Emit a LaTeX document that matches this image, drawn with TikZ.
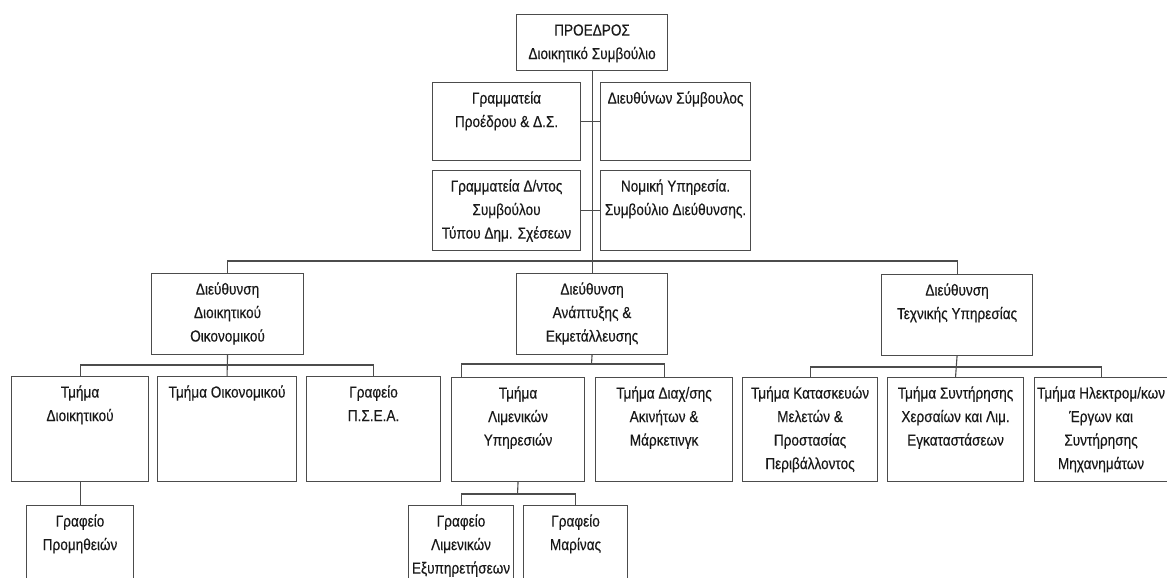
\documentclass[tikz,border=0pt]{standalone}
\usepackage{fontspec}
\setmainfont[FakeStretch=0.85,FakeBold=0.3]{Liberation Sans}
\newcommand{\tb}[3]{\parbox[t][#2pt][t]{#1pt}{\centering\baselineskip=23.5pt\rule{0pt}{21pt}#3}}
\tikzset{
  unit/.style={draw=black!70, line width=1.1pt, inner sep=0pt, anchor=north west,
    text=black!90, font=\fontsize{16}{23.5}\selectfont},
  link/.style={draw=black!70, line width=1.1pt}
}
\begin{document}
\begin{tikzpicture}[x=1pt,y=-1pt]
  \clip (0,0) rectangle (1167,578);
  \fill[white] (0,0) rectangle (1167,578);
  % top level
  \node[unit] (prs) at (516,14) {\tb{151}{56}{ΠΡΟΕΔΡΟΣ\\Διοικητικό Συμβούλιο}};
  \node[unit] (gp) at (432,82) {\tb{148}{78}{Γραμματεία\\Προέδρου \& Δ.Σ.}};
  \node[unit] (ceo) at (600,82) {\tb{150}{78}{Διευθύνων Σύμβουλος}};
  \node[unit] (gd) at (432,170) {\tb{148}{80}{Γραμματεία Δ/ντος\\Συμβούλου\\Τύπου Δημ. Σχέσεων}};
  \node[unit] (nom) at (600,170) {\tb{150}{80}{Νομική Υπηρεσία.\\Συμβούλιο Διεύθυνσης.}};
  % directorates
  \node[unit] (dio) at (151,273) {\tb{152}{81}{Διεύθυνση\\Διοικητικού\\Οικονομικού}};
  \node[unit] (anap) at (516,273) {\tb{151}{81}{Διεύθυνση\\Ανάπτυξης \&\\Εκμετάλλευσης}};
  \node[unit] (tex) at (881,274) {\tb{151}{81}{Διεύθυνση\\Τεχνικής Υπηρεσίας}};
  % departments
  \node[unit] (tdi) at (11,376) {\tb{137}{105}{Τμήμα\\Διοικητικού}};
  \node[unit] (toik) at (157,376) {\tb{139}{105}{Τμήμα Οικονομικού}};
  \node[unit] (psea) at (306,376) {\tb{134}{105}{Γραφείο\\Π.Σ.Ε.Α.}};
  \node[unit] (lim) at (451,377) {\tb{133}{104}{Τμήμα\\Λιμενικών\\Υπηρεσιών}};
  \node[unit] (diax) at (595,377) {\tb{137}{104}{Τμήμα Διαχ/σης\\Ακινήτων \&\\Μάρκετινγκ}};
  \node[unit] (kat) at (742,377) {\tb{135}{104}{Τμήμα Κατασκευών\\Μελετών \&\\Προστασίας\\Περιβάλλοντος}};
  \node[unit] (syn) at (887,377) {\tb{136}{104}{Τμήμα Συντήρησης\\Χερσαίων και Λιμ.\\Εγκαταστάσεων}};
  \node[unit] (ilek) at (1034,377) {\tb{133}{104}{Τμήμα Ηλεκτρομ/κων\\Έργων και\\Συντήρησης\\Μηχανημάτων}};
  % offices
  \node[unit] (prom) at (26,505) {\tb{107}{90}{Γραφείο\\Προμηθειών}};
  \node[unit] (glim) at (408,505) {\tb{105}{90}{Γραφείο\\Λιμενικών\\Εξυπηρετήσεων}};
  \node[unit] (mar) at (523,505) {\tb{104}{90}{Γραφείο\\Μαρίνας}};
  % junctions
  \coordinate (bus) at (591.5,261);
  \coordinate (busdio) at (227,365);
  \coordinate (busanap) at (591.5,364);
  \coordinate (buslim) at (517.5,494);
  \coordinate (bustex) at (956.5,367);
  % connectors
  \draw[link] (prs.south) -- (anap.north);
  \draw[link] (gp.east) -- (ceo.west);
  \draw[link] (gd.east) -- (nom.west);
  \draw[link] (dio.north) |- (bus) -| (tex.north);
  \draw[link] (dio.south) -- (toik.north);
  \draw[link] (tdi.north) |- (busdio) -| (psea.north);
  \draw[link] (tdi.south) -- (prom.north);
  \draw[link] (anap.south) -- (busanap);
  \draw[link] (lim.north -| glim.north) |- (busanap) -| (diax.north);
  \draw[link] (lim.south) -- (buslim);
  \draw[link] (glim.north) |- (buslim) -| (mar.north);
  \draw[link] (tex.south) -- (syn.north);
  \draw[link] (kat.north) |- (bustex) -| (ilek.north);
\end{tikzpicture}
\end{document}
